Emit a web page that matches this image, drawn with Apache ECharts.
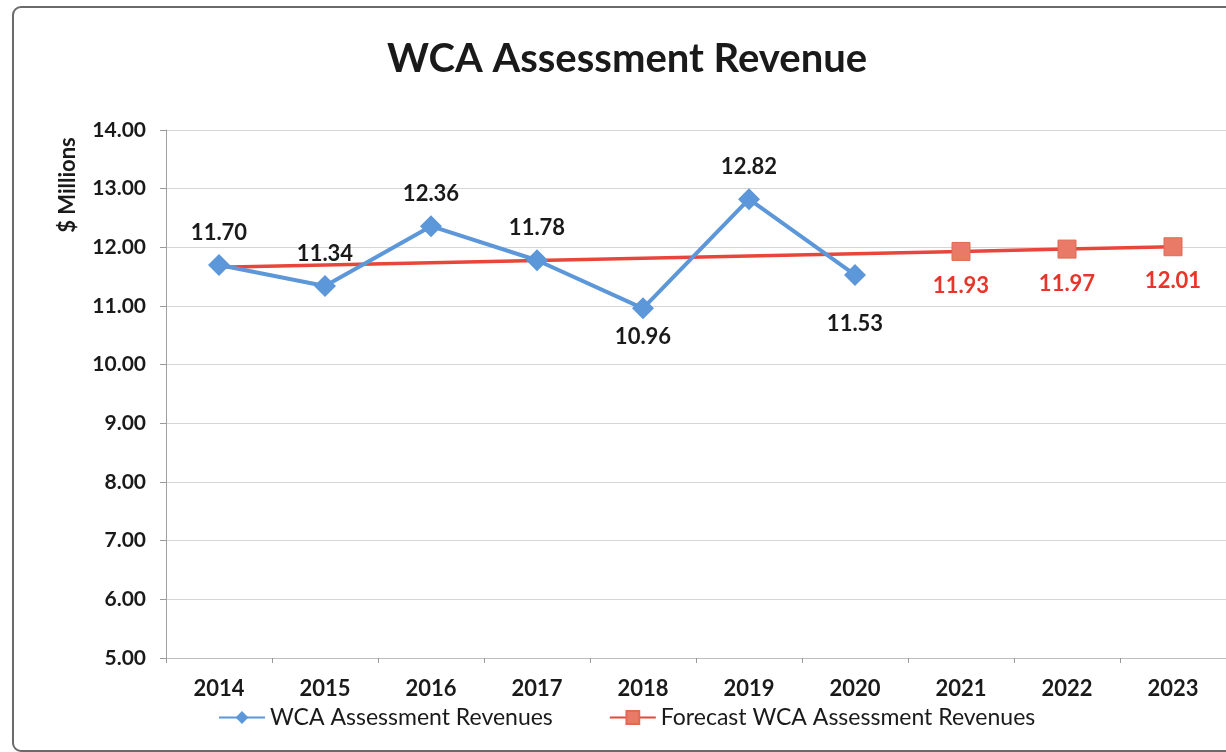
<!DOCTYPE html>
<html>
<head>
<meta charset="utf-8">
<script src="https://cdn.jsdelivr.net/npm/echarts@6/dist/echarts.min.js"></script>
<style>html,body{margin:0;padding:0;background:#fff;}#c{width:1226px;height:752px;}</style>
</head>
<body>
<div id="c"></div>
<script>
const titleText = 'WCA Assessment Revenue';
const yAxisName = '$ Millions';
const years = ['2014','2015','2016','2017','2018','2019','2020','2021','2022','2023'];
const actualName = 'WCA Assessment Revenues';
const actual = [11.70, 11.34, 12.36, 11.78, 10.96, 12.82, 11.53, null, null, null];
const actualLabelBelow = [false, false, false, false, true, false, true, false, false, false];
const forecastName = 'Forecast WCA Assessment Revenues';
const forecast = [11.66, null, null, null, null, null, null, 11.93, 11.97, 12.01];
const forecastShown = [false, false, false, false, false, false, false, true, true, true];

const FONT = 'Lato';
const chart = echarts.init(document.getElementById('c'), null, {renderer: 'canvas'});

const actualData = actual.map((v, i) => {
  if (v === null) return null;
  return {
    value: v,
    label: actualLabelBelow[i]
      ? {position: 'bottom', distance: i === 6 ? 27 : 7}
      : {position: 'top', distance: 10}
  };
});
const forecastData = forecast.map((v, i) => {
  if (v === null) return null;
  if (!forecastShown[i]) return {value: v, symbol: 'none', label: {show: false}};
  return {value: v};
});

chart.setOption({
  backgroundColor: '#ffffff',
  animation: false,
  title: {
    text: titleText,
    left: 382,
    top: 34,
    textStyle: {fontFamily: FONT, fontSize: 40, fontWeight: 'bold', color: '#1a1a1a'}
  },
  graphic: [
    {type: 'rect', shape: {x: 13, y: 7, width: 1300, height: 744, r: 8},
     style: {fill: 'none', stroke: '#6a6a6a', lineWidth: 2}, z: -1},
    {type: 'text', x: 68, y: 185, rotation: Math.PI / 2,
     style: {text: yAxisName, font: 'bold 22px Lato', fill: '#1a1a1a', textAlign: 'center', textVerticalAlign: 'middle'}}
  ],
  legend: {
    bottom: 18,
    left: 213,
    itemGap: 56,
    itemWidth: 46,
    itemHeight: 16,
    textStyle: {fontFamily: FONT, fontSize: 23, color: '#1a1a1a'},
    data: [actualName, forecastName]
  },
  grid: {left: 166, right: -2, top: 130, bottom: 94},
  xAxis: {
    type: 'category',
    data: years,
    boundaryGap: true,
    axisLine: {show: true, lineStyle: {color: '#bdbdbd', width: 1}},
    axisTick: {show: true, length: 5, lineStyle: {color: '#9a9a9a'}},
    axisLabel: {fontFamily: FONT, fontSize: 22, fontWeight: 'bold', color: '#1a1a1a', margin: 20}
  },
  yAxis: {
    type: 'value',
    min: 5, max: 14, interval: 1,
    axisLine: {show: true, lineStyle: {color: '#a0a0a0', width: 1}},
    axisTick: {show: true, length: 6, lineStyle: {color: '#9a9a9a'}},
    splitLine: {lineStyle: {color: '#d6d6d6', width: 1}},
    axisLabel: {fontFamily: FONT, fontSize: 21, fontWeight: 'bold', color: '#1a1a1a', margin: 20,
      formatter: v => v.toFixed(2)}
  },
  series: [
    {
      name: forecastName,
      type: 'line',
      data: forecastData,
      connectNulls: true,
      symbol: 'rect',
      symbolSize: 18,
      z: 2,
      lineStyle: {color: '#e8463a', width: 3.5},
      itemStyle: {color: '#ea7a68', borderColor: '#e06a55', borderWidth: 1},
      label: {show: true, position: 'bottom', distance: 14, fontFamily: FONT, fontSize: 22, fontWeight: 'bold', color: '#e8352a',
        formatter: p => p.value.toFixed(2)},
      emphasis: {disabled: true}
    },
    {
      name: actualName,
      type: 'line',
      data: actualData,
      symbol: 'diamond',
      symbolSize: 22,
      z: 3,
      lineStyle: {color: '#5b97d9', width: 4},
      itemStyle: {color: '#5b97d9'},
      label: {show: true, fontFamily: FONT, fontSize: 22, fontWeight: 'bold', color: '#1a1a1a',
        formatter: p => p.value.toFixed(2)},
      emphasis: {disabled: true}
    }
  ]
});
</script>
</body>
</html>
